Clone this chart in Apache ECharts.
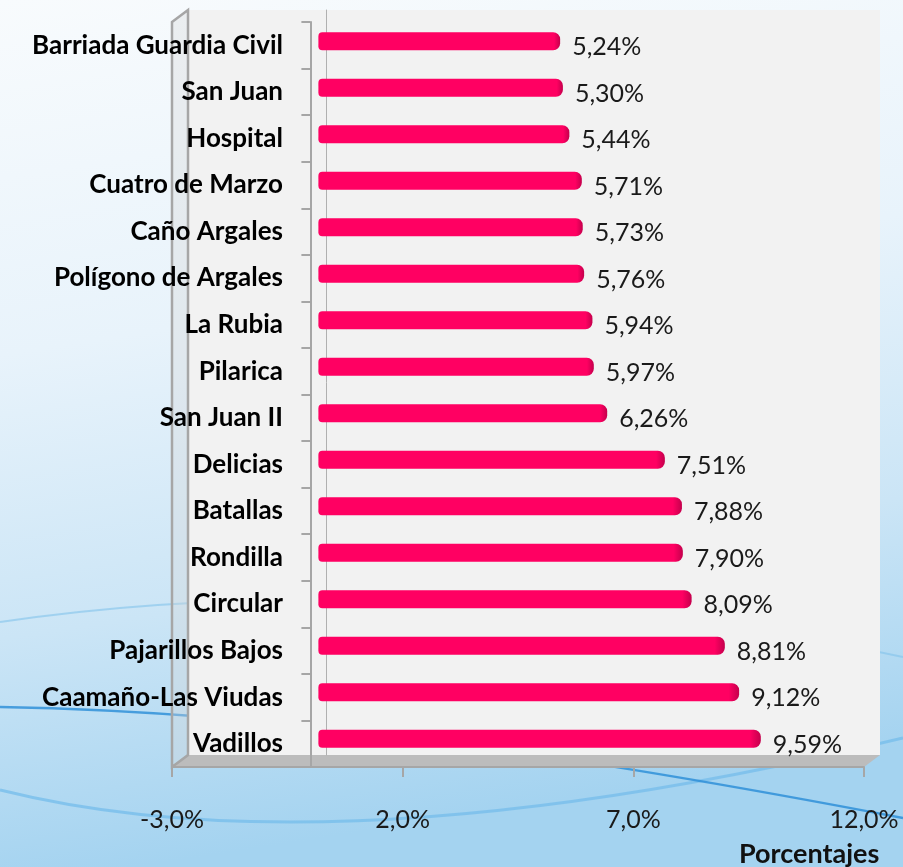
<!DOCTYPE html>
<html>
<head>
<meta charset="utf-8">
<script src="https://cdn.jsdelivr.net/npm/echarts@6/dist/echarts.min.js"></script>
<style>
  html, body, #main { margin: 0; padding: 0; width: 903px; height: 867px; overflow: hidden; }
</style>
</head>
<body>
<div id="main"></div>
<script>
// datos
var categories = ["Barriada Guardia Civil", "San Juan", "Hospital", "Cuatro de Marzo", "Caño Argales",
  "Polígono de Argales", "La Rubia", "Pilarica", "San Juan II", "Delicias", "Batallas", "Rondilla",
  "Circular", "Pajarillos Bajos", "Caamaño-Las Viudas", "Vadillos"];
var values = [5.24, 5.30, 5.44, 5.71, 5.73, 5.76, 5.94, 5.97, 6.26, 7.51, 7.88, 7.90, 8.09, 8.81, 9.12, 9.59];
var axisMin = -3, axisMax = 12, axisStep = 5;
var axisName = "Porcentajes";

var labelFont = "Lato";
var pct = function (v, d) { return v.toFixed(d).replace(".", ",") + "%"; };

// planos del efecto 3D: frontal, medio (barras), fondo
var front = { left: 172, right: 39, top: 22, bottom: 100 };
var mid = { left: 180, right: 31, top: 18, bottom: 105 };
var back = { left: 188, right: 23, top: 10, bottom: 112 };
var W = 903, H = 867;
var labelRight = 283; // borde derecho de las etiquetas de categoria

var myChart = echarts.init(document.getElementById("main"));

var option = {
  animation: false,
  backgroundColor: {
    type: "linear", x: 0, y: 0, x2: 0.15, y2: 1,
    colorStops: [
      { offset: 0, color: "#f8fbfd" },
      { offset: 0.4, color: "#e8f3fb" },
      { offset: 0.72, color: "#cbe5f6" },
      { offset: 1, color: "#a4d3f0" }
    ]
  },
  title: {
    text: axisName,
    left: 734, top: 836,
    textStyle: { fontFamily: labelFont, fontWeight: "bold", fontSize: 27, color: "#111" }
  },
  graphic: [
    // lineas decorativas del fondo
    { type: "bezierCurve", z: -1, shape: { x1: 0, y1: 790, cpx1: 220, cpy1: 845, cpx2: 520, cpy2: 830, x2: 903, y2: 738 },
      style: { stroke: "rgba(120,190,235,0.8)", lineWidth: 3, fill: null } },
    { type: "bezierCurve", z: -1, shape: { x1: 0, y1: 707, cpx1: 300, cpy1: 712, cpx2: 600, cpy2: 760, x2: 903, y2: 818 },
      style: { stroke: "rgba(40,140,215,0.8)", lineWidth: 2.5, fill: null } },
    { type: "bezierCurve", z: -1, shape: { x1: 0, y1: 622, cpx1: 250, cpy1: 585, cpx2: 600, cpy2: 590, x2: 903, y2: 657 },
      style: { stroke: "rgba(130,195,235,0.6)", lineWidth: 2, fill: null } },
    // suelo
    { type: "polygon", z: 1, shape: { points: [[front.left, H - front.bottom], [back.left, H - back.bottom],
        [W - back.right, H - back.bottom], [W - front.right, H - front.bottom]] },
      style: { fill: "#bcbcbc" } },
    // pared izquierda
    { type: "polygon", z: 1, shape: { points: [[front.left, front.top], [back.left, back.top],
        [back.left, H - back.bottom], [front.left, H - front.bottom]] },
      style: { fill: "rgba(215,215,215,0.35)", stroke: "#a6a6a6", lineWidth: 2.5 } }
  ],
  grid: [
    { left: front.left, right: front.right, top: front.top, bottom: front.bottom, z: 3,
      outerBoundsMode: "none", containLabel: false },
    { left: mid.left, right: mid.right, top: mid.top, bottom: mid.bottom, z: 4,
      outerBoundsMode: "none", containLabel: false },
    { left: back.left, right: back.right, top: back.top, bottom: back.bottom, z: 0,
      outerBoundsMode: "none", containLabel: false,
      show: true, backgroundColor: "#f2f2f2", borderWidth: 0 }
  ],
  xAxis: [
    {
      gridIndex: 0, type: "value", min: axisMin, max: axisMax, interval: axisStep, z: 3,
      axisLine: { show: true, lineStyle: { color: "#a6a6a6", width: 2 } },
      axisTick: { show: true, length: 10, lineStyle: { color: "#a6a6a6", width: 2 } },
      axisLabel: { margin: 40, fontFamily: labelFont, fontSize: 25, color: "#1a1a1a",
        formatter: function (v) { return pct(v, 1); } },
      splitLine: { show: false }
    },
    { gridIndex: 1, type: "value", min: axisMin, max: axisMax, show: false },
    { gridIndex: 2, type: "value", min: axisMin, max: axisMax, show: false }
  ],
  yAxis: [
    {
      gridIndex: 0, type: "category", data: categories, inverse: true, z: 3,
      axisLine: { show: true, onZero: true, lineStyle: { color: "#a6a6a6", width: 2 } },
      axisTick: { show: true, length: 9, lineStyle: { color: "#a6a6a6", width: 2 } },
      axisLabel: { margin: front.left - labelRight, align: "right", fontFamily: labelFont,
        fontWeight: "bold", fontSize: 26, color: "#000" }
    },
    { gridIndex: 1, type: "category", data: categories, inverse: true, show: false },
    {
      gridIndex: 2, type: "category", data: categories, inverse: true, z: 1,
      axisLine: { show: true, onZero: true, lineStyle: { color: "#b0b0b0", width: 1 } },
      axisTick: { show: false },
      axisLabel: { show: false }
    }
  ],
  series: [
    {
      type: "bar", xAxisIndex: 1, yAxisIndex: 1, z: 5,
      data: values,
      barWidth: 18,
      itemStyle: {
        borderRadius: [4, 7, 7, 4],
        color: {
          type: "linear", x: 0, y: 0, x2: 1, y2: 0,
          colorStops: [
            { offset: 0, color: "#ff0062" },
            { offset: 0.975, color: "#ff0062" },
            { offset: 1, color: "#c4004c" }
          ]
        }
      },
      label: {
        show: true, position: "right", distance: 12, offset: [0, 6],
        fontFamily: labelFont, fontSize: 25, color: "#1a1a1a",
        formatter: function (p) { return pct(p.value, 2); }
      }
    }
  ]
};

myChart.setOption(option);
window.onresize = myChart.resize;
</script>
</body>
</html>
